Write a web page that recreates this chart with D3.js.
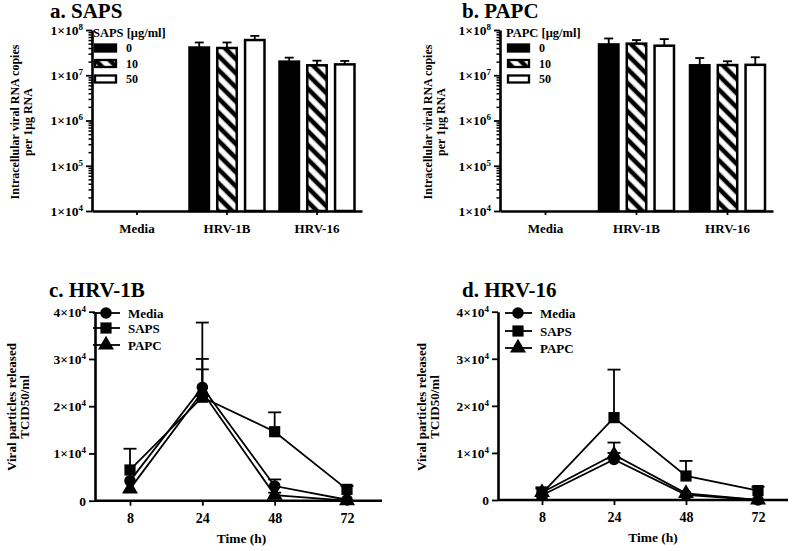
<!DOCTYPE html>
<html>
<head>
<meta charset="utf-8">
<script src="https://cdn.jsdelivr.net/npm/d3@7"></script>
<style>
html,body{margin:0;padding:0;background:#fff;}
svg{display:block;}
text{font-family:"Liberation Serif","Times New Roman",serif;font-weight:bold;fill:#000;}
</style>
</head>
<body>
<svg id="chart" width="800" height="551"></svg>
<script>
// ---------- DATA ----------
const barCategories = ["Media", "HRV-1B", "HRV-16"];
const concLevels = ["0", "10", "50"];
const logTickValues = [1e4, 1e5, 1e6, 1e7, 1e8];

// Panel a: SAPS (µg/ml) — mean and upper SD per category
const sapsMean0  = [null, 4.1e7, 2.0e7];
const sapsMean10 = [null, 4.0e7, 1.66e7];
const sapsMean50 = [null, 6.0e7, 1.74e7];
const sapsSD0    = [null, 1.2e7, 0.45e7];
const sapsSD10   = [null, 1.3e7, 0.44e7];
const sapsSD50   = [null, 1.4e7, 0.33e7];

// Panel b: PAPC (µg/ml)
const papcMean0  = [null, 4.8e7, 1.66e7];
const papcMean10 = [null, 5.0e7, 1.68e7];
const papcMean50 = [null, 4.5e7, 1.70e7];
const papcSD0    = [null, 1.7e7, 0.74e7];
const papcSD10   = [null, 1.0e7, 0.36e7];
const papcSD50   = [null, 1.8e7, 0.80e7];

// Panels c/d: time course
const timePoints = ["8", "24", "48", "72"];
const linearTickValues = [0, 1e4, 2e4, 3e4, 4e4];
const seriesNames = ["Media", "SAPS", "PAPC"];

const hrv1bMedia   = [4200, 24000, 3100, 200];
const hrv1bMediaSD = [0, 6000, 1400, 0];
const hrv1bSAPS    = [6500, 21900, 14600, 2400];
const hrv1bSAPSSD  = [4500, 15800, 4100, 700];
const hrv1bPAPC    = [2500, 23000, 1200, 0];
const hrv1bPAPCSD  = [0, 4800, 500, 0];

const hrv16Media   = [1000, 8600, 1100, 0];
const hrv16MediaSD = [0, 1400, 0, 0];
const hrv16SAPS    = [1400, 17500, 5100, 2000];
const hrv16SAPSSD  = [1300, 10200, 3200, 800];
const hrv16PAPC    = [1600, 9600, 1400, 0];
const hrv16PAPCSD  = [800, 2600, 0, 0];

// ---------- DRAWING ----------
const svg = d3.select("#chart");
const defs = svg.append("defs");
const pat = defs.append("pattern")
  .attr("id", "hatch").attr("patternUnits", "userSpaceOnUse")
  .attr("width", 10).attr("height", 10)
  .attr("patternTransform", "rotate(-45)");
pat.append("rect").attr("width", 10).attr("height", 10).attr("fill", "#fff");
pat.append("line").attr("x1", 5).attr("y1", 0).attr("x2", 5).attr("y2", 10)
  .attr("stroke", "#000").attr("stroke-width", 4.6);

const fills = ["#000", "url(#hatch)", "#fff"];
const AXW = 2.6;

function supLabel(sel, base, exp) {
  sel.text(null);
  sel.append("tspan").text(base);
  sel.append("tspan").attr("dy", "-0.55em").attr("font-size", "9px").text(exp);
}

function styleAxis(g) {
  g.attr("font-family", null).attr("font-size", null);
  g.selectAll("path.domain").attr("stroke", "#000").attr("stroke-width", AXW);
  g.selectAll(".tick line").attr("stroke", "#000").attr("stroke-width", 1.8);
  g.selectAll("text").attr("font-family", "Liberation Serif, serif").attr("font-weight", "bold").attr("fill", "#000");
}

function yTitle(x1, x2, cy, fs, line1, line2) {
  svg.append("text").attr("transform", `translate(${x1},${cy}) rotate(-90)`)
    .attr("text-anchor", "middle").attr("dominant-baseline", "central")
    .attr("font-size", fs + "px").text(line1);
  svg.append("text").attr("transform", `translate(${x2},${cy}) rotate(-90)`)
    .attr("text-anchor", "middle").attr("dominant-baseline", "central")
    .attr("font-size", fs + "px").text(line2);
}

function barPanel(opt) {
  const x = d3.scaleBand().domain(barCategories).range(opt.xRange).padding(0);
  const y = d3.scaleLog().domain([1e4, 1e8]).range(opt.yRange);
  const xs = d3.scaleBand().domain(concLevels).range([-37.5, 37.5]).paddingInner(0.3);

  // title
  svg.append("text").attr("x", opt.titleX).attr("y", opt.titleY)
    .attr("font-size", "21px").text(opt.title);

  // bars
  concLevels.forEach((c, ci) => {
    const means = opt.means[ci], sds = opt.sds[ci];
    barCategories.forEach((cat, i) => {
      const m = means[i];
      if (m == null) return;
      const cx = x(cat) + x.bandwidth() / 2 + xs(c);
      const top = y(m + sds[i]);
      const bx = cx + xs.bandwidth() / 2;
      const g = svg.append("g");
      g.append("line").attr("x1", bx).attr("x2", bx).attr("y1", y(m)).attr("y2", top)
        .attr("stroke", "#000").attr("stroke-width", 1.8);
      g.append("line").attr("x1", bx - 4.5).attr("x2", bx + 4.5).attr("y1", top).attr("y2", top)
        .attr("stroke", "#000").attr("stroke-width", 1.8);
      g.append("rect").attr("x", cx).attr("y", y(m))
        .attr("width", xs.bandwidth()).attr("height", y(1e4) - y(m))
        .attr("fill", fills[ci]).attr("stroke", "#000").attr("stroke-width", 2.5);
    });
  });

  // minor ticks
  const minor = [];
  for (let e = 4; e < 8; e++) for (let k = 2; k <= 9; k++) minor.push(k * Math.pow(10, e));
  const gm = svg.append("g").attr("transform", `translate(${opt.xRange[0]},0)`)
    .call(d3.axisLeft(y).tickValues(minor).tickSize(3.5).tickFormat(""));
  gm.select("path.domain").remove();
  gm.selectAll(".tick line").attr("stroke", "#000").attr("stroke-width", 1.5);

  // y axis
  const gy = svg.append("g").attr("transform", `translate(${opt.xRange[0]},0)`)
    .call(d3.axisLeft(y).tickValues(logTickValues).tickSize(6).tickSizeOuter(0).tickPadding(3));
  styleAxis(gy);
  gy.selectAll("text").attr("font-size", "13.5px").attr("font-weight", "normal").each(function(d) {
    supLabel(d3.select(this), "1×10", String(Math.round(Math.log10(d))));
  });

  // x axis
  const gx = svg.append("g").attr("transform", `translate(0,${opt.yRange[0]})`)
    .call(d3.axisBottom(x).tickSize(4).tickSizeOuter(0).tickPadding(9));
  styleAxis(gx);
  gx.selectAll("text").attr("font-size", "13px");

  yTitle(opt.yt[0], opt.yt[1], opt.yt[2], 12, "Intracellular viral RNA copies", "per 1μg RNA");

  // legend
  const lg = svg.append("g");
  lg.append("text").attr("x", opt.legX).attr("y", 37).attr("font-size", "12.5px").text(opt.legTitle);
  concLevels.forEach((c, i) => {
    const ly = 48 + i * 15.5;
    lg.append("rect").attr("x", opt.legX + 2).attr("y", ly - 3.5).attr("width", 21).attr("height", 7)
      .attr("fill", fills[i]).attr("stroke", "#000").attr("stroke-width", 2.3);
    lg.append("text").attr("x", opt.legX + 33).attr("y", ly).attr("dominant-baseline", "central")
      .attr("font-size", "12px").text(c);
  });
}

barPanel({
  xRange: [92, 362], yRange: [211, 30], title: "a. SAPS", titleX: 50, titleY: 18,
  means: [sapsMean0, sapsMean10, sapsMean50], sds: [sapsSD0, sapsSD10, sapsSD50],
  yt: [15, 27.5, 122], legX: 93, legTitle: "SAPS [μg/ml]"
});
barPanel({
  xRange: [500, 773], yRange: [211, 30], title: "b. PAPC", titleX: 462, titleY: 18,
  means: [papcMean0, papcMean10, papcMean50], sds: [papcSD0, papcSD10, papcSD50],
  yt: [428, 440.5, 122], legX: 506, legTitle: "PAPC [μg/ml]"
});

function symbolFor(i) {
  return [d3.symbolCircle, d3.symbolSquare, d3.symbolTriangle][i];
}
const symSizes = [105, 125, 110];

function linePanel(opt) {
  const x = d3.scalePoint().domain(timePoints).range(opt.xRange);
  const y = d3.scaleLinear().domain([0, 4e4]).range(opt.yRange);

  svg.append("text").attr("x", opt.titleX).attr("y", opt.titleY)
    .attr("font-size", "21px").text(opt.title);

  const line = d3.line().x((d, i) => x(timePoints[i])).y(d => y(d));

  // lines
  opt.series.forEach(s => {
    svg.append("path").datum(s).attr("d", line).attr("fill", "none")
      .attr("stroke", "#000").attr("stroke-width", 1.8);
  });
  // error bars (upper)
  opt.series.forEach((s, si) => {
    s.forEach((v, i) => {
      const sd = opt.sds[si][i];
      if (!sd) return;
      const cx = x(timePoints[i]);
      svg.append("line").attr("x1", cx).attr("x2", cx).attr("y1", y(v)).attr("y2", y(v + sd))
        .attr("stroke", "#000").attr("stroke-width", 1.8);
      svg.append("line").attr("x1", cx - 6.5).attr("x2", cx + 6.5).attr("y1", y(v + sd)).attr("y2", y(v + sd))
        .attr("stroke", "#000").attr("stroke-width", 1.8);
    });
  });
  // markers
  opt.series.forEach((s, si) => {
    s.forEach((v, i) => {
      svg.append("path").attr("d", d3.symbol().type(symbolFor(si)).size(symSizes[si])())
        .attr("transform", `translate(${x(timePoints[i])},${y(v)})`).attr("fill", "#000");
    });
  });

  // axes
  const gy = svg.append("g").attr("transform", `translate(${opt.axisX[0]},0)`)
    .call(d3.axisLeft(y).tickValues(linearTickValues).tickSize(6).tickSizeOuter(0).tickPadding(3));
  styleAxis(gy);
  gy.selectAll("text").attr("font-size", "13.5px").attr("font-weight", "normal").each(function(d) {
    if (d === 0) { d3.select(this).text("0").attr("font-weight", "bold"); return; }
    supLabel(d3.select(this), (d / 1e4) + "×10", "4");
  });

  const gx = svg.append("g").attr("transform", `translate(0,${opt.yRange[0]})`)
    .call(d3.axisBottom(x).tickSize(5).tickSizeOuter(0).tickPadding(7));
  gx.select("path.domain").remove();
  gx.append("line").attr("x1", opt.axisX[0]).attr("x2", opt.axisX[1]).attr("y1", 0).attr("y2", 0)
    .attr("stroke", "#000").attr("stroke-width", AXW);
  styleAxis(gx);
  gx.selectAll("text").attr("font-size", "14px");

  svg.append("text").attr("x", (opt.xRange[0] + opt.xRange[1]) / 2 + 3).attr("y", opt.yRange[0] + 42)
    .attr("text-anchor", "middle").attr("font-size", "13.5px").text("Time (h)");

  yTitle(opt.yt[0], opt.yt[1], opt.yt[2], 13, "Viral particles released", "TCID50/ml");

  // legend
  seriesNames.forEach((n, i) => {
    const ly = opt.legY[i];
    svg.append("line").attr("x1", opt.legX - 13).attr("x2", opt.legX + 14).attr("y1", ly).attr("y2", ly)
      .attr("stroke", "#000").attr("stroke-width", 1.8);
    svg.append("path").attr("d", d3.symbol().type(symbolFor(i)).size(symSizes[i])())
      .attr("transform", `translate(${opt.legX},${ly})`).attr("fill", "#000");
    svg.append("text").attr("x", opt.legX + 22).attr("y", ly).attr("dominant-baseline", "central")
      .attr("font-size", "13px").text(n);
  });
}

linePanel({
  xRange: [130, 347], yRange: [500.7, 311.7], axisX: [95, 382],
  title: "c. HRV-1B", titleX: 49, titleY: 297,
  series: [hrv1bMedia, hrv1bSAPS, hrv1bPAPC], sds: [hrv1bMediaSD, hrv1bSAPSSD, hrv1bPAPCSD],
  yt: [11, 24, 407], legX: 106, legY: [313, 328, 345]
});
linePanel({
  xRange: [542, 758], yRange: [500, 311.7], axisX: [498, 788],
  title: "d. HRV-16", titleX: 462, titleY: 297,
  series: [hrv16Media, hrv16SAPS, hrv16PAPC], sds: [hrv16MediaSD, hrv16SAPSSD, hrv16PAPCSD],
  yt: [421, 434, 407], legX: 518, legY: [313, 331, 348]
});
</script>
</body>
</html>
